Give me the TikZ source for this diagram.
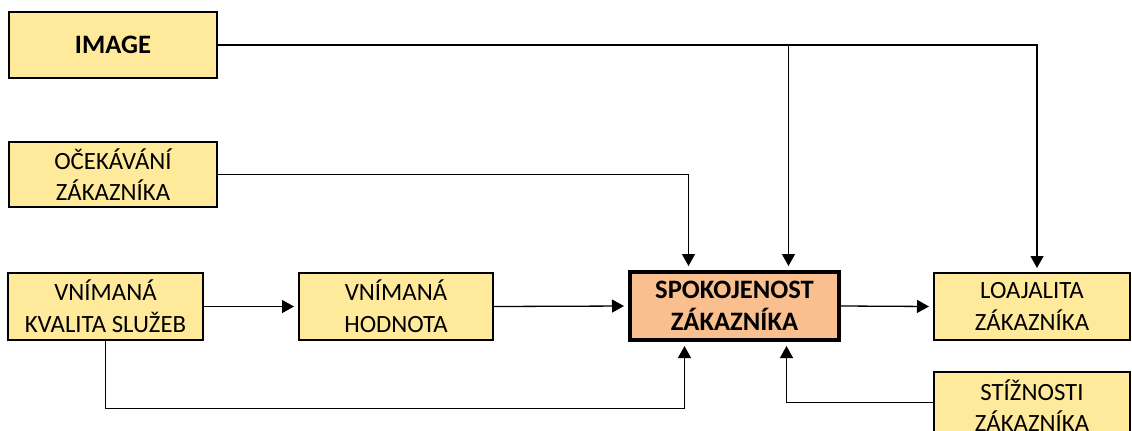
\documentclass[tikz,border=0pt]{standalone}
\usepackage{fontspec}
\setmainfont{Carlito}
\usetikzlibrary{arrows.meta}
\definecolor{boxyellow}{RGB}{255,233,155}
\definecolor{boxorange}{RGB}{249,191,143}

\tikzset{
  factor/.style={draw=black, line width=1pt, fill=boxyellow, align=center,
    inner sep=0pt, font=\fontsize{12.4pt}{15.8pt}\selectfont},
  link/.style={line width=0.65pt, -{Triangle[length=6pt,width=6.5pt]}, shorten >=2pt},
  plain/.style={line width=0.65pt}
}

\begin{document}
\begin{tikzpicture}[x=0.5pt, y=-0.5pt]
            \useasboundingbox (0,0) rectangle (1132,430);
            \clip (0,0) rectangle (1132,430);

            % Left column
            \node[factor, minimum width=104pt, minimum height=33pt,
              font=\fontsize{13.3pt}{16pt}\selectfont\bfseries] (image) at (113,45) {IMAGE};
            \node[factor, minimum width=104pt, minimum height=32.5pt] (expect) at (113,174.5) {OČEKÁVÁNÍ\\ZÁKAZNÍKA};
            \node[factor, minimum width=97.5pt, minimum height=33.5pt] (quality) at (105.5,306.5) {VNÍMANÁ\\KVALITA SLUŽEB};

            % Middle
            \node[factor, minimum width=97pt, minimum height=33.5pt] (value) at (396,306.5) {VNÍMANÁ\\HODNOTA};
            \node[factor, fill=boxorange, line width=2pt, minimum width=104.5pt, minimum height=34pt,
              font=\fontsize{13.3pt}{16pt}\selectfont\bfseries] (satisf) at (734.5,306) {SPOKOJENOST\\ZÁKAZNÍKA};

            % Right column
            \node[factor, minimum width=98pt, minimum height=33.5pt] (loyal) at (1032,306.5) {LOAJALITA\\ZÁKAZNÍKA};
            \node[factor, minimum width=98pt, minimum height=33.5pt] (complaint) at (1032,405.5) {STÍŽNOSTI\\ZÁKAZNÍKA};

            % Arrows into satisfaction
            \draw[link] (image.east) -| ([xshift=2.5pt]loyal.north);
            \draw[link] ([xshift=27pt]satisf.north |- image.east) -- ([xshift=27pt]satisf.north);
            \draw[link] (expect.east) -| ([xshift=-23pt]satisf.north);
            \draw[link] (quality.east) -- (value.west);
            \draw[link] (value.east) -- (satisf.west);
            \draw[link] (satisf.east) -- (loyal.west);

            % Lower feedback lines
            \coordinate (qdown) at ([yshift=-1.5pt]quality.south |- complaint.west);
            \draw[plain] (quality.south) -- (qdown);
            \draw[link] (qdown) -| ([xshift=-25pt]satisf.south);
            \draw[link] ([yshift=1.5pt]complaint.west) -| ([xshift=26pt]satisf.south);
        \end{tikzpicture}
\end{document}
